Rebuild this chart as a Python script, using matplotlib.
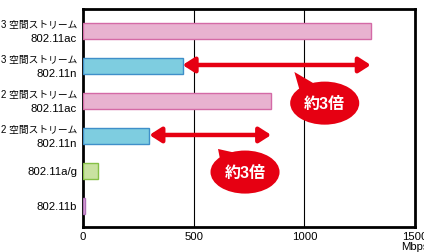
import matplotlib.pyplot as plt
import matplotlib.transforms as mtransforms
from matplotlib.patches import Ellipse, Polygon

plt.rcParams['font.family'] = ['Liberation Sans', 'Noto Sans CJK JP', 'DejaVu Sans']

# データ (Mbps)
streams = ['3 空間ストリーム', '3 空間ストリーム', '2 空間ストリーム', '2 空間ストリーム', '', '']
standards = ['802.11ac', '802.11n', '802.11ac', '802.11n', '802.11a/g', '802.11b']
speeds = [1300, 450, 850, 300, 68, 11]
fills = ['#e8b2d0', '#7ecde0', '#e8b2d0', '#7ecde0', '#c9e2a0', '#e2b6dc']
edges = ['#d46aa6', '#3f8fc9', '#d46aa6', '#3f8fc9', '#86c046', '#b070b8']
xticks = [0, 500, 1000, 1500]

fig = plt.figure(figsize=(4.24, 2.53), dpi=100)
ax = fig.add_axes([0.1958, 0.0988, 0.7830, 0.8617])

y = list(range(len(standards)))
ax.barh(y, speeds, height=0.46, color=fills, edgecolor=edges, linewidth=1.0, zorder=3)

ax.set_xlim(0, 1500)
ax.set_ylim(5.6, -0.63)
ax.set_xticks(xticks)
ax.set_xticklabels([str(t) for t in xticks], fontsize=8.2)
ax.set_yticks([])
ax.tick_params(length=0, pad=3)
for t in xticks[1:3]:
    ax.axvline(t, color='black', linewidth=0.8, zorder=1)
for s in ax.spines.values():
    s.set_linewidth(2)
ax.text(1500, -0.065, 'Mbps', transform=mtransforms.blended_transform_factory(ax.transData, ax.transAxes),
        ha='center', va='top', fontsize=8.2)

# 手書きの y ラベル (2 行)
lab = mtransforms.offset_copy(mtransforms.blended_transform_factory(ax.transAxes, ax.transData),
                              fig=fig, x=-6, units='dots')
for yy, top, bottom in zip(y, streams, standards):
    if top:
        ax.text(0, yy - 0.2, top, transform=lab, ha='right', va='center', fontsize=7.0)
        ax.text(0, yy + 0.2, bottom, transform=lab, ha='right', va='center', fontsize=8.2)
    else:
        ax.text(0, yy, bottom, transform=lab, ha='right', va='center', fontsize=8.2)

red = '#e60012'


def arrow(x0, x1, yy):
    ax.annotate('', xy=(x1, yy), xytext=(x0, yy),
                arrowprops=dict(arrowstyle='<|-|>,head_length=0.7,head_width=0.45',
                                color=red, lw=3.2, shrinkA=0, shrinkB=0), zorder=4)


def bubble(cx, cy, tip):
    w, h = 312, 1.23
    ax.add_patch(Ellipse((cx, cy), w, h, color=red, zorder=5, lw=0))
    ax.add_patch(Polygon([tip, (cx - w * 0.36, cy - h * 0.28), (cx - w * 0.15, cy - h * 0.45)],
                         closed=True, color=red, zorder=5, lw=0))
    ax.text(cx, cy, '約3倍', color='white', fontsize=11.5, fontweight='bold',
            ha='center', va='center', zorder=6)


arrow(speeds[1], speeds[0], 0.97)
arrow(speeds[3], speeds[2], 2.97)
bubble(1092, 2.06, (955, 1.17))
bubble(732, 4.03, (610, 3.37))

fig.savefig('out.png', dpi=100)
